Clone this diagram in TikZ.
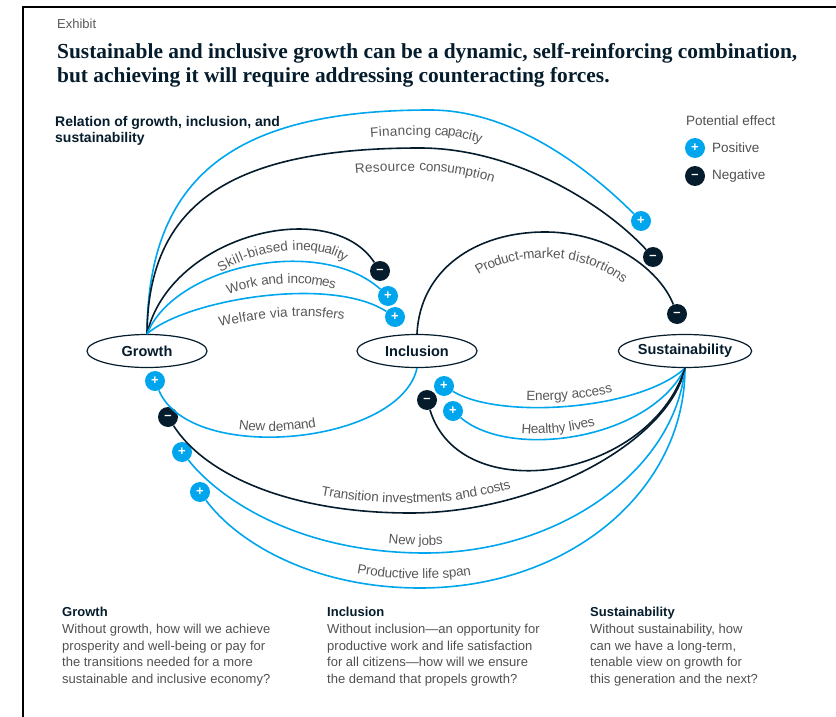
\documentclass[tikz,border=0pt]{standalone}
\usepackage{fontspec}
\setmainfont{Liberation Sans}
\newfontfamily\headfont{Liberation Serif}
\usetikzlibrary{shapes.geometric,decorations.text}
\definecolor{skyblue}{RGB}{0,166,237}
\definecolor{ink}{RGB}{5,28,44}
\definecolor{labgrey}{RGB}{88,88,88}
\definecolor{bodygrey}{RGB}{80,80,80}
\newcommand{\labfont}{\fontsize{13.5}{16}\selectfont}
\newcommand{\hubfont}{\fontsize{14.5}{17}\selectfont\bfseries}
\newcommand{\badgefont}{\fontsize{13}{13}\selectfont\bfseries}
\newcommand{\bodyfont}{\fontsize{13}{16.7}\selectfont}
\begin{document}
\begin{tikzpicture}
		[x=1pt,y=1pt,
		hub/.style={ellipse,draw=ink,line width=1.2pt,fill=white,inner sep=0pt,
minimum width=120pt,minimum height=33pt,text=ink,font=\hubfont},
		posbadge/.style={circle,fill=skyblue,inner sep=0pt,minimum size=20pt,
text=white,font=\badgefont},
		negbadge/.style={circle,fill=ink,inner sep=0pt,minimum size=20pt,
text=white,font=\badgefont},
		posline/.style={skyblue,line width=1.6pt},
		negline/.style={ink,line width=1.6pt},
		lab/.style n args={4}{postaction={decorate,decoration={text along path,
text={|\labfont\kern#4pt|#1},text color=labgrey,
text align={left indent=#2},raise=#3}}},
		note/.style={anchor=north west,align=left,inner sep=0pt,text=bodygrey,font=\bodyfont},
		heading/.style={anchor=base west,inner sep=0pt,text=ink,
font=\headfont\bfseries\fontsize{21.4}{24}\selectfont}]
		\useasboundingbox (0,0) rectangle (836,-717);
		\draw[line width=2pt] (23,-717) -- (23,-7) -- (836,-7);
		% headings
		\node at (57,-29) (exhibit) [anchor=base west,inner sep=0pt,text=labgrey,font=\fontsize{13}{15}\selectfont] {Exhibit};
		\node at (57,-59) (title1) [heading]
			{Sustainable and inclusive growth can be a dynamic, self-reinforcing combination,};
		\node at (57,-83) (title2) [heading]
			{but achieving it will require addressing counteracting forces.};
		\node at (55,-116) (relation) [note,text=ink,font=\fontsize{14}{16}\selectfont\bfseries]
			{Relation of growth, inclusion, and\\sustainability};
		% legend
		\node at (686,-121) (legend) [anchor=west,inner sep=0pt,text=bodygrey,font=\labfont] {Potential effect};
		\node at (695,-148) (legpos) [posbadge] {+};
		\node at (712,-148) (legposlab) [anchor=west,inner sep=0pt,text=bodygrey,font=\labfont] {Positive};
		\node at (695,-176) (legneg) [negbadge] {--};
		\node at (712,-176) (legneglab) [anchor=west,inner sep=0pt,text=bodygrey,font=\labfont] {Negative};
		% hubs
		\node at (147,-351) (grow) [hub] {Growth};
		\node at (417,-351) (incl) [hub] {Inclusion};
		\node at (685,-351) (sust) [hub] {Sustainability};
		% effect badges
		\node at (641,-221) (fin) [posbadge] {+};
		\node at (653,-257) (res) [negbadge] {--};
		\node at (380,-271) (skil) [negbadge] {--};
		\node at (388,-296) (work) [posbadge] {+};
		\node at (395,-317) (welf) [posbadge] {+};
		\node at (677,-314) (dist) [negbadge] {--};
		\node at (155,-381) (dem) [posbadge] {+};
		\node at (168,-417) (trans) [negbadge] {--};
		\node at (182,-452) (jobs) [posbadge] {+};
		\node at (200,-492) (life) [posbadge] {+};
		\node at (444,-386) (ener) [posbadge] {+};
		\node at (453,-411) (heal) [posbadge] {+};
		\node at (427,-400) (back) [negbadge] {--};
		% links from growth
		\draw[posline,lab={Financing capacity}{354pt}{-25pt}{0.5}] (grow.north)
			.. controls (148,-177) and (233,-110) .. (430,-110)
			.. controls (510,-110) and (585,-165) .. (fin);
		\draw[negline,lab={Resource consumption}{311pt}{-23pt}{0.5}] (grow.north)
			.. controls (148,-204) and (230,-148) .. (420,-148)
			.. controls (510,-148) and (600,-200) .. (res);
		\draw[negline,lab={Skill-biased inequality}{104pt}{-21pt}{1}] (grow.north)
			.. controls (170,-235) and (330,-195) .. (skil);
		\draw[posline,lab={Work and incomes}{98pt}{-22pt}{0.6}] (grow.north)
			.. controls (175,-265) and (320,-235) .. (work);
		\draw[posline,lab={Welfare via transfers}{74pt}{-23pt}{0.5}] (grow.north)
			.. controls (185,-300) and (330,-275) .. (welf);
		% links from inclusion
		\draw[negline,lab={Product-market distortions}{98pt}{-26pt}{1}] (incl.north)
			.. controls (420,-270) and (475,-232) .. (545,-232)
			.. controls (610,-232) and (660,-270) .. (dist);
		\draw[posline,lab={New demand}{95pt}{6pt}{0}] (dem)
			.. controls (190,-465) and (400,-445) .. (incl.south);
		% links from sustainability
		\draw[negline,lab={Transition investments and costs}{170pt}{10pt}{0}] (trans)
			.. controls (205,-475) and (290,-513) .. (410,-513)
			.. controls (540,-513) and (670,-440) .. (sust.south);
		\draw[posline,lab={New jobs}{225pt}{8pt}{0}] (jobs)
			.. controls (220,-500) and (300,-553) .. (425,-553)
			.. controls (560,-553) and (675,-470) .. (sust.south);
		\draw[posline,lab={Productive life span}{174pt}{9pt}{0}] (life)
			.. controls (235,-540) and (310,-588) .. (420,-588)
			.. controls (570,-588) and (685,-490) .. (sust.south);
		\draw[posline,lab={Energy access}{76pt}{7pt}{0}] (ener)
			.. controls (500,-420) and (640,-410) .. (sust.south);
		\draw[posline,lab={Healthy lives}{65pt}{6pt}{0}] (heal)
			.. controls (510,-460) and (650,-440) .. (sust.south);
		\draw[negline] (back)
			.. controls (460,-510) and (650,-480) .. (sust.south);
		% notes
		\node at (62,-607) (growtxt) [note] {{\color{ink}\bfseries Growth}\\
			Without growth, how will we achieve\\prosperity and well-being or pay for\\
			the transitions needed for a more\\sustainable and inclusive economy?};
		\node at (327,-607) (incltxt) [note] {{\color{ink}\bfseries Inclusion}\\
			Without inclusion---an opportunity for\\productive work and life satisfaction\\
			for all citizens---how will we ensure\\the demand that propels growth?};
		\node at (590,-607) (susttxt) [note] {{\color{ink}\bfseries Sustainability}\\
			Without sustainability, how\\can we have a long-term,\\
			tenable view on growth for\\this generation and the next?};
	\end{tikzpicture}
\end{document}
